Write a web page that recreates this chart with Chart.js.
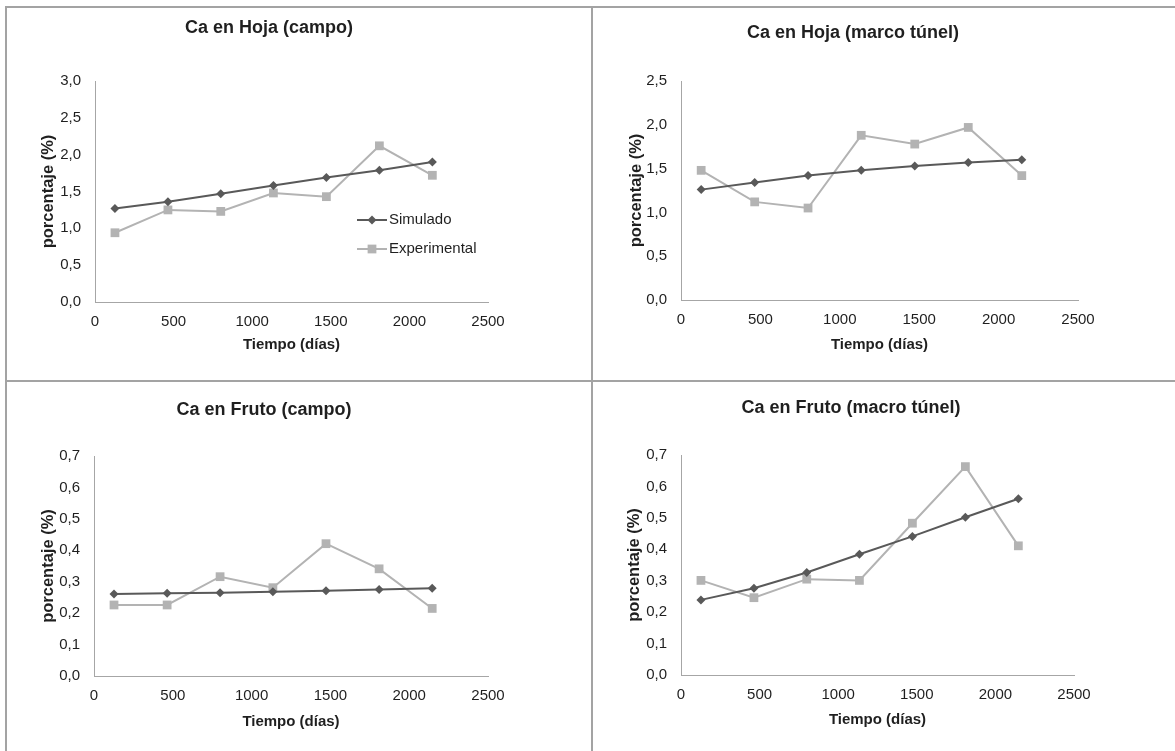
<!DOCTYPE html>
<html>
<head>
<meta charset="utf-8">
<script src="https://cdn.jsdelivr.net/npm/chart.js@4/dist/chart.umd.min.js"></script>
<style>
  html, body { margin: 0; padding: 0; background: #fff; }
  #page { position: relative; width: 1175px; height: 751px; overflow: hidden; background: #fff; }
  .ln { position: absolute; background: #a3a3a3; }
  canvas { position: absolute; }
</style>
</head>
<body>
<div id="page">
  <div class="ln" style="left:5px;top:6px;width:1170px;height:2px;"></div>
  <div class="ln" style="left:5px;top:6px;width:2px;height:745px;"></div>
  <div class="ln" style="left:591px;top:6px;width:2px;height:745px;"></div>
  <div class="ln" style="left:5px;top:380px;width:1170px;height:2px;"></div>
  <canvas id="c1" width="528" height="373" style="left:5px;top:7px;"></canvas>
  <canvas id="c2" width="524" height="373" style="left:591px;top:7px;"></canvas>
  <canvas id="c3" width="518" height="369" style="left:5px;top:382px;"></canvas>
  <canvas id="c4" width="520" height="369" style="left:591px;top:382px;"></canvas>
</div>
<script>
// ---- data ----
const dias = [127, 464, 800, 1135, 1472, 1809, 2146];
const hojaCampoSim = [1.27, 1.36, 1.47, 1.58, 1.69, 1.79, 1.90];
const hojaCampoExp = [0.94, 1.25, 1.23, 1.48, 1.43, 2.12, 1.72];
const hojaTunelSim = [1.26, 1.34, 1.42, 1.48, 1.53, 1.57, 1.60];
const hojaTunelExp = [1.48, 1.12, 1.05, 1.88, 1.78, 1.97, 1.42];
const frutoCampoSim = [0.261, 0.263, 0.265, 0.268, 0.271, 0.275, 0.279];
const frutoCampoExp = [0.226, 0.226, 0.316, 0.281, 0.421, 0.341, 0.215];
const frutoTunelSim = [0.239, 0.276, 0.326, 0.384, 0.441, 0.502, 0.561];
const frutoTunelExp = [0.301, 0.246, 0.305, 0.301, 0.483, 0.663, 0.411];
const seriesNames = ['Simulado', 'Experimental'];
const titles = ['Ca en Hoja (campo)', 'Ca en Hoja (marco túnel)', 'Ca en Fruto (campo)', 'Ca en Fruto (macro túnel)'];
const xAxisTitle = 'Tiempo (días)';
const yAxisTitle = 'porcentaje (%)';

// ---- styles ----
const FONT = "'Liberation Sans', Arial, Helvetica, sans-serif";
const DARK = '#595959';
const LIGHT = '#b3b3b3';
const AXIS = '#a6a6a6';
const TXT = '#1f1f1f';

const insideLegend = {
  id: 'insideLegend',
  afterDatasetsDraw(chart, args, opts) {
    if (!opts || !opts.display) return;
    const ctx = chart.ctx;
    chart.data.datasets.forEach((ds, i) => {
      const y = opts.y + i * opts.rowGap;
      const cx = opts.x + opts.lineLen / 2;
      ctx.save();
      ctx.strokeStyle = ds.borderColor;
      ctx.lineWidth = ds.borderWidth;
      ctx.beginPath();
      ctx.moveTo(opts.x, y);
      ctx.lineTo(opts.x + opts.lineLen, y);
      ctx.stroke();
      ctx.fillStyle = ds.pointBackgroundColor;
      const r = ds.pointRadius;
      ctx.beginPath();
      if (ds.pointStyle === 'rectRot') {
        ctx.moveTo(cx - r, y); ctx.lineTo(cx, y - r); ctx.lineTo(cx + r, y); ctx.lineTo(cx, y + r);
        ctx.closePath();
      } else {
        const s = Math.SQRT1_2 * r;
        ctx.rect(cx - s, y - s, 2 * s, 2 * s);
      }
      ctx.fill();
      ctx.fillStyle = TXT;
      ctx.font = '15px ' + FONT;
      ctx.textAlign = 'left';
      ctx.textBaseline = 'middle';
      ctx.fillText(ds.label, opts.x + opts.lineLen + 2, y);
      ctx.restore();
    });
  }
};

function pts(ys) { return dias.map((d, i) => ({ x: d, y: ys[i] })); }

function makeChart(id, title, sim, exp, yMax, yStep, L) {
  return new Chart(document.getElementById(id), {
    type: 'line',
    data: {
      datasets: [
        { label: seriesNames[0], data: pts(sim), borderColor: DARK, backgroundColor: DARK,
          pointBackgroundColor: DARK, pointBorderColor: DARK, pointBorderWidth: 0,
          borderWidth: 2, pointStyle: 'rectRot', pointRadius: 4.5, tension: 0 },
        { label: seriesNames[1], data: pts(exp), borderColor: LIGHT, backgroundColor: LIGHT,
          pointBackgroundColor: LIGHT, pointBorderColor: LIGHT, pointBorderWidth: 0,
          borderWidth: 2, pointStyle: 'rect', pointRadius: 6.2, tension: 0 }
      ]
    },
    options: {
      responsive: false,
      animation: false,
      events: [],
      layout: { padding: 0 },
      plugins: {
        legend: { display: false },
        tooltip: { enabled: false },
        title: { display: true, text: title, color: TXT,
          font: { family: FONT, size: 18, weight: 'bold' },
          padding: { top: L.tTop, bottom: L.tBot } },
        insideLegend: L.legend || { display: false }
      },
      scales: {
        x: {
          type: 'linear', min: 0, max: 2500,
          grid: { display: false, drawTicks: false },
          border: { display: true, color: AXIS, width: 1 },
          ticks: { stepSize: 500, padding: 11, color: TXT, font: { family: FONT, size: 15 },
            callback: v => String(v), maxRotation: 0 },
          title: { display: true, text: xAxisTitle, color: TXT,
            font: { family: FONT, size: 15, weight: 'bold' }, padding: { top: 0, bottom: L.xtPb } },
          afterFit: s => { s.height = L.xH; s.paddingRight = L.padR; s.paddingLeft = 0; }
        },
        y: {
          type: 'linear', min: 0, max: yMax,
          grid: { display: false, drawTicks: false },
          border: { display: true, color: AXIS, width: 1 },
          ticks: { stepSize: yStep, padding: 14, color: TXT, font: { family: FONT, size: 15 },
            callback: v => v.toFixed(1).replace('.', ',') },
          title: { display: true, text: yAxisTitle, color: TXT,
            font: { family: FONT, size: 16.5, weight: 'bold' }, padding: { top: L.ytPt, bottom: 0 } },
          afterFit: s => { s.width = L.yW; }
        }
      }
    },
    plugins: [insideLegend]
  });
}

makeChart('c1', titles[0], hojaCampoSim, hojaCampoExp, 3.0, 0.5,
  { tTop: 10.2, tBot: 42.2, xH: 78, padR: 45, yW: 90, xtPb: 26, ytPt: 34,
    legend: { display: true, x: 352, y: 213, rowGap: 29, lineLen: 30 } });
makeChart('c2', titles[1], hojaTunelSim, hojaTunelExp, 2.5, 0.5,
  { tTop: 15.2, tBot: 37.2, xH: 80, padR: 37, yW: 90, xtPb: 26, ytPt: 36 });
makeChart('c3', titles[2], frutoCampoSim, frutoCampoExp, 0.7, 0.1,
  { tTop: 17.2, tBot: 35.2, xH: 75, padR: 35, yW: 89, xtPb: 20, ytPt: 34 });
makeChart('c4', titles[3], frutoTunelSim, frutoTunelExp, 0.7, 0.1,
  { tTop: 15.2, tBot: 36.2, xH: 76, padR: 37, yW: 90, xtPb: 22, ytPt: 34 });
</script>
</body>
</html>
